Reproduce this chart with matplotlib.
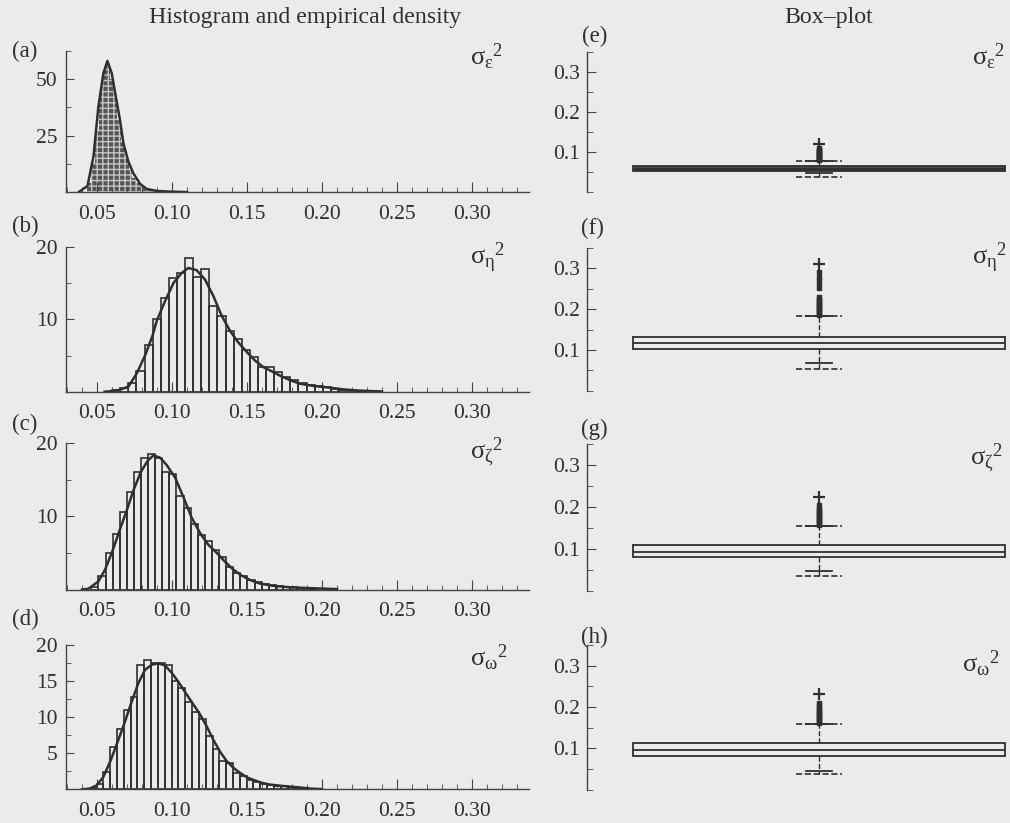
import numpy as np
import matplotlib
matplotlib.use('Agg')
import matplotlib.pyplot as plt
from matplotlib.ticker import FixedLocator, FormatStrFormatter
from matplotlib.patches import Polygon

plt.rcParams['font.family'] = ['Liberation Serif', 'DejaVu Serif']
plt.rcParams['mathtext.fontset'] = 'custom'
plt.rcParams['mathtext.rm'] = 'Liberation Serif'
plt.rcParams['mathtext.it'] = 'Liberation Serif:italic'
plt.rcParams['mathtext.default'] = 'regular'
plt.rcParams['hatch.linewidth'] = 1.0

W, H = 1010, 823
BG = '#ebebeb'
INK = '#2f2f2f'

# ---- histograms (density scale) ----
hist_start = [0.0435, 0.0601, 0.0462, 0.0451]
hist_width = [0.0025, 0.0054, 0.00473, 0.00455]

hist_a = [4, 13, 27, 44, 55, 57, 50, 42, 32, 22, 15, 10, 6.5, 4.2, 2.6, 1.6,
          1.0, 0.6, 0.4]
hist_b = [0.2, 0.5, 1.2, 2.8, 6.5, 10.0, 13.0, 15.7, 16.4, 18.5, 15.8, 16.9,
          11.9, 10.4, 8.4, 7.3, 5.7, 4.8, 3.4, 3.4, 2.7, 2.1, 1.6, 1.2, 0.9,
          0.8, 0.7, 0.4, 0.3, 0.2, 0.15, 0.1]
hist_c = [0.3, 1.8, 5.0, 7.6, 10.6, 13.3, 16.0, 18.0, 18.5, 18.0, 16.0, 15.8,
          12.8, 11.1, 9.0, 7.4, 6.6, 5.4, 4.5, 3.1, 2.2, 1.8, 1.3, 1.0, 0.8,
          0.6, 0.5, 0.4, 0.3, 0.2, 0.15, 0.1]
hist_d = [0.2, 0.8, 2.4, 5.9, 8.3, 11.0, 12.7, 17.2, 17.8, 17.5, 17.4, 17.2,
          14.9, 14.0, 12.1, 10.7, 9.7, 7.4, 5.5, 3.9, 3.6, 2.2, 1.9, 1.3, 1.0,
          0.8, 0.6, 0.5, 0.4, 0.3, 0.2, 0.15, 0.1]

# ---- empirical densities ----
dens_a_x = [0.038, 0.0436, 0.0476, 0.0509, 0.0542, 0.0569, 0.0598, 0.0627,
            0.0653, 0.0676, 0.0709, 0.0742, 0.0787, 0.0831, 0.0898, 0.0987, 0.11]
dens_a_y = [0.2, 2.8, 15.7, 37.8, 52.5, 58.0, 52.5, 41.5, 31.9, 21.6, 13.5,
            8.4, 3.7, 1.5, 0.6, 0.3, 0.1]
dens_b_x = [0.055, 0.0587, 0.0650, 0.0709, 0.0764, 0.0820, 0.0871, 0.0898,
            0.0953, 0.1009, 0.1064, 0.1109, 0.1164, 0.1220, 0.1276, 0.1331,
            0.1387, 0.1442, 0.1498, 0.1553, 0.1609, 0.1676, 0.1731, 0.1787,
            0.1853, 0.1942, 0.2053, 0.2150, 0.2250, 0.2400]
dens_b_y = [0.0, 0.05, 0.25, 0.7, 2.5, 5.0, 7.8, 9.8, 12.5, 15.0, 16.4, 17.1,
            16.8, 15.5, 13.2, 10.5, 8.4, 6.8, 5.5, 4.3, 3.4, 2.7, 2.1, 1.6,
            1.1, 0.8, 0.55, 0.3, 0.15, 0.03]
dens_c_x = [0.040, 0.0442, 0.0509, 0.0553, 0.0602, 0.0649, 0.0698, 0.0742,
            0.0791, 0.0838, 0.0876, 0.0920, 0.0964, 0.1020, 0.1076, 0.1131,
            0.1187, 0.1242, 0.1298, 0.1353, 0.1409, 0.1464, 0.1520, 0.1587,
            0.1676, 0.1787, 0.1898, 0.2100]
dens_c_y = [0.0, 0.1, 1.1, 2.7, 5.2, 8.0, 10.8, 13.5, 16.0, 17.6, 18.3, 18.0,
            17.0, 15.3, 12.6, 9.8, 7.7, 6.1, 5.0, 3.8, 2.7, 1.9, 1.3, 0.8,
            0.5, 0.3, 0.2, 0.05]
dens_d_x = [0.040, 0.0453, 0.0498, 0.0542, 0.0591, 0.0638, 0.0682, 0.0731,
            0.0776, 0.0820, 0.0864, 0.0909, 0.0953, 0.0998, 0.1047, 0.1091,
            0.1136, 0.1182, 0.1231, 0.1276, 0.1320, 0.1364, 0.1413, 0.1458,
            0.1504, 0.1549, 0.1598, 0.1653, 0.1742, 0.1831, 0.1920, 0.2000]
dens_d_y = [0.0, 0.1, 0.55, 1.7, 4.0, 6.6, 9.1, 12.1, 14.7, 16.5, 17.2, 17.4,
            17.1, 16.1, 14.7, 13.3, 11.9, 10.5, 8.7, 6.8, 5.2, 3.9, 2.9, 2.2,
            1.6, 1.25, 0.9, 0.65, 0.45, 0.3, 0.1, 0.03]

hists = [hist_a, hist_b, hist_c, hist_d]
dens_x = [dens_a_x, dens_b_x, dens_c_x, dens_d_x]
dens_y = [dens_a_y, dens_b_y, dens_c_y, dens_d_y]

hist_ytop = [62.5, 20, 20, 20]
hist_ymajor = [[25, 50], [10, 20], [10, 20], [5, 10, 15, 20]]
hist_yminor = [[12.5, 37.5, 62.5], [5, 15], [5, 15], [2.5, 7.5, 12.5, 17.5]]

# ---- box plots ----
box_q1 = [0.051, 0.102, 0.081, 0.081]
box_med = [0.057, 0.117, 0.093, 0.095]
box_q3 = [0.063, 0.132, 0.110, 0.112]
whisk_lo = [0.046, 0.068, 0.048, 0.044]
whisk_hi = [0.0775, 0.183, 0.155, 0.158]
fence_lo = [0.0375, 0.054, 0.036, 0.037]
fence_hi = [0.0775, 0.183, 0.155, 0.158]
fliers_e = [0.079, 0.081, 0.083, 0.085, 0.087, 0.089, 0.091, 0.093, 0.095,
            0.097, 0.099, 0.101, 0.103, 0.105, 0.108]
fliers_f = [0.186, 0.189, 0.192, 0.195, 0.198, 0.201, 0.204, 0.207, 0.210,
            0.213, 0.216, 0.219, 0.222, 0.226, 0.230, 0.251, 0.262, 0.271,
            0.280, 0.290]
fliers_g = [0.157, 0.160, 0.163, 0.166, 0.169, 0.172, 0.175, 0.178, 0.181,
            0.184, 0.187, 0.190, 0.194, 0.198, 0.205]
fliers_h = [0.161, 0.164, 0.167, 0.170, 0.173, 0.176, 0.179, 0.182, 0.185,
            0.188, 0.191, 0.195, 0.200, 0.205, 0.210]
fliers = [fliers_e, fliers_f, fliers_g, fliers_h]
extremes = [0.119, 0.312, 0.224, 0.232]

hist_tags = ['(a)', '(b)', '(c)', '(d)']
box_tags = ['(e)', '(f)', '(g)', '(h)']
subs = ['ε', 'η', 'ζ', 'ω']

# layout in pixels (top, bottom)
left_rows = [(50.7, 192.3), (247, 391.7), (443, 589.5), (644.5, 789.3)]
right_rows = [(51.7, 191.7), (248, 390.8), (444, 591), (645, 789.6)]
hist_tag_y = [51, 226, 424, 619]
box_tag_xy = [(595, 36), (592, 228), (594, 429), (594, 637)]
sig_left_y = [57, 258, 452, 658]
sig_right_xy = [(972, 57), (972, 258), (970, 458), (962, 664)]

BOX_POS, BOX_W, FENCE_W, CAP_W = 0.551, 0.884, 0.109, 0.06


def add_axes_px(fig, l, t, r, b):
    return fig.add_axes([l / W, 1 - b / H, (r - l) / W, (b - t) / H])


def ftext(fig, x, y, s, **kw):
    fig.text(x / W, 1 - y / H, s, color=INK, **kw)


fig = plt.figure(figsize=(W / 100, H / 100), dpi=100, facecolor=BG)

for i in range(4):
    t, b = left_rows[i]
    ax = add_axes_px(fig, 66, t, 529, b)
    ax.set_facecolor('none')
    edges = hist_start[i] + hist_width[i] * np.arange(len(hists[i]))
    if i == 0:
        bars = ax.bar(edges, hists[i], width=hist_width[i], align='edge',
                      facecolor='#555555', edgecolor='#c4c4c4', linewidth=0,
                      hatch='+++')
        verts = [(dens_x[i][0], 0)] + list(zip(dens_x[i], dens_y[i])) + \
                [(dens_x[i][-1], 0)]
        poly = Polygon(verts, closed=True, transform=ax.transData)
        for bar in bars:
            bar.set_clip_path(poly)
    else:
        ax.bar(edges, hists[i], width=hist_width[i], align='edge', fill=False,
               edgecolor=INK, linewidth=1.2)
    ax.plot(dens_x[i], dens_y[i], color=INK, lw=1.8)

    ax.set_xlim(0.0293, 0.338)
    ax.set_ylim(0, hist_ytop[i])
    ax.xaxis.set_major_locator(FixedLocator([0.05, 0.10, 0.15, 0.20, 0.25, 0.30]))
    ax.xaxis.set_minor_locator(FixedLocator(np.round(np.arange(0.03, 0.335, 0.01), 3)))
    ax.xaxis.set_major_formatter(FormatStrFormatter('%.2f'))
    ax.yaxis.set_major_locator(FixedLocator(hist_ymajor[i]))
    ax.yaxis.set_minor_locator(FixedLocator(hist_yminor[i]))
    for s in ['top', 'right']:
        ax.spines[s].set_visible(False)
    for s in ['left', 'bottom']:
        ax.spines[s].set_color('#444444')
        ax.spines[s].set_linewidth(1.0)
    ax.tick_params(which='both', direction='in', colors='#444444',
                   labelcolor=INK, labelsize=15.5)
    ax.tick_params(axis='x', which='major', length=7, pad=9)
    ax.tick_params(axis='x', which='minor', length=3.5)
    ax.tick_params(axis='y', which='major', length=6, pad=6)
    ax.tick_params(axis='y', which='minor', length=3.5)

    ftext(fig, 25, hist_tag_y[i], hist_tags[i], fontsize=16.5, ha='center', va='center')
    ftext(fig, 470, sig_left_y[i], r'${σ_{%s}}^{2}$' % subs[i], fontsize=19,
          ha='left', va='center')

for i in range(4):
    t, b = right_rows[i]
    ax = add_axes_px(fig, 587, t, 1008, b)
    ax.set_facecolor('none')
    stats = [dict(med=box_med[i], q1=box_q1[i], q3=box_q3[i],
                  whislo=whisk_lo[i], whishi=whisk_hi[i], fliers=fliers[i])]
    face = '#4a4a4a' if i == 0 else 'none'
    ax.bxp(stats, positions=[BOX_POS], widths=BOX_W, capwidths=CAP_W,
           patch_artist=True, manage_ticks=False,
           boxprops=dict(facecolor=face, edgecolor=INK, linewidth=1.3),
           medianprops=dict(color=INK, linewidth=1.3),
           whiskerprops=dict(color=INK, linewidth=1.0, linestyle='--'),
           capprops=dict(color=INK, linewidth=1.3),
           flierprops=dict(marker='s', markersize=3.5, markerfacecolor=INK,
                           markeredgecolor=INK))
    ax.hlines([fence_lo[i], fence_hi[i]], BOX_POS - FENCE_W / 2,
              BOX_POS + FENCE_W / 2, colors=INK, linestyles='--', linewidth=1.2)
    ax.vlines(BOX_POS, fence_lo[i], whisk_lo[i], colors=INK,
              linestyles='--', linewidth=1.0)
    ax.plot([BOX_POS], [extremes[i]], marker='+', markersize=8,
            markeredgewidth=1.6, color=INK, linestyle='none')

    ax.set_xlim(0, 1)
    ax.set_ylim(0, 0.35)
    ax.yaxis.set_major_locator(FixedLocator([0.1, 0.2, 0.3]))
    ax.yaxis.set_minor_locator(FixedLocator([0.0, 0.05, 0.15, 0.25, 0.35]))
    ax.yaxis.set_major_formatter(FormatStrFormatter('%.1f'))
    ax.set_xticks([])
    for s in ['top', 'right', 'bottom']:
        ax.spines[s].set_visible(False)
    ax.spines['left'].set_color('#444444')
    ax.spines['left'].set_linewidth(1.0)
    ax.tick_params(axis='y', which='both', direction='in', colors='#444444',
                   labelcolor=INK, labelsize=15.5)
    ax.tick_params(axis='y', which='major', length=6.5, pad=5)
    ax.tick_params(axis='y', which='minor', length=4)

    bx, by = box_tag_xy[i]
    ftext(fig, bx, by, box_tags[i], fontsize=16.5, ha='center', va='center')
    sx, sy = sig_right_xy[i]
    ftext(fig, sx, sy, r'${σ_{%s}}^{2}$' % subs[i], fontsize=19,
          ha='left', va='center')

ftext(fig, 305, 18, 'Histogram and empirical density', fontsize=17.2,
      ha='center', va='center')
ftext(fig, 829, 18, 'Box–plot', fontsize=17.2, ha='center', va='center')

fig.savefig('out.png', dpi=100, facecolor=BG)
